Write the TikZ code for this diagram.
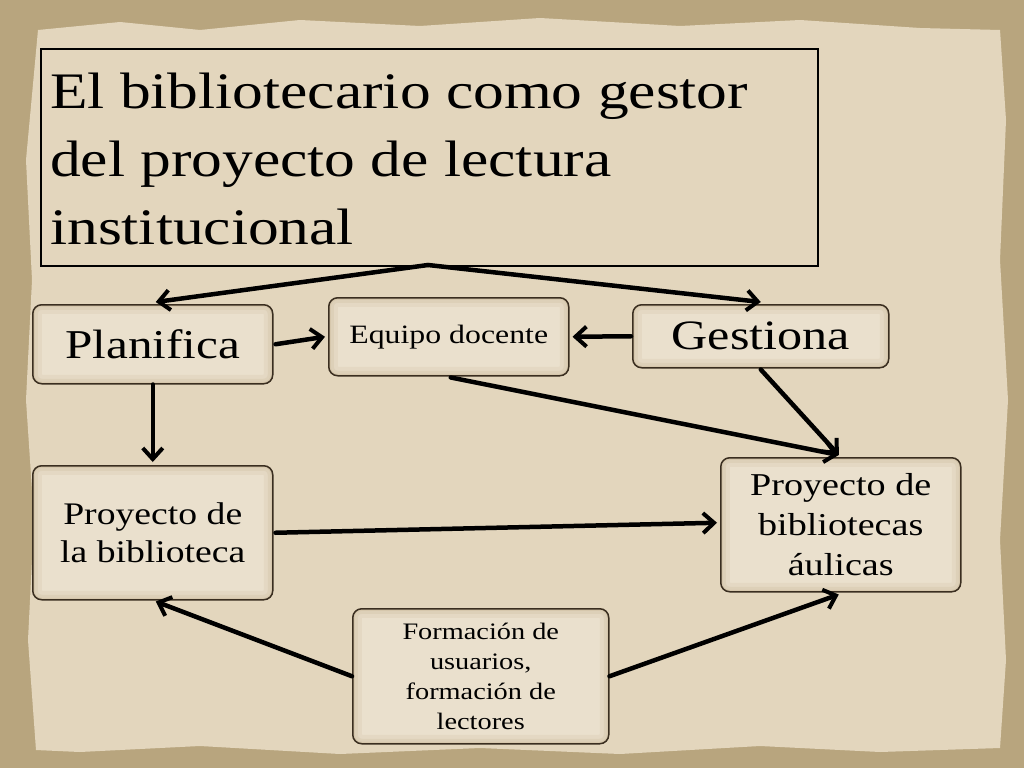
\documentclass[tikz,border=0pt]{standalone}
\usepackage{fontspec}
\setmainfont{Liberation Serif}[FakeStretch=1.2]
\usetikzlibrary{arrows.meta,calc}
\definecolor{outerbg}{HTML}{B8A57E}
\definecolor{paper}{HTML}{E3D6BD}
\definecolor{boxfill}{HTML}{EAE0CD}
\definecolor{boxshade}{HTML}{C2AE8A}
\definecolor{boxedge}{HTML}{3A2E20}
\tikzset{
  rbox/.style={draw=boxedge, line width=1.5pt, rounded corners=9pt, fill=boxfill,
    anchor=north west, align=center, inner sep=2pt, text=black,
    path picture={
      \draw[boxshade, line width=18pt, opacity=0.15, rounded corners=9pt]
        (path picture bounding box.south west) rectangle (path picture bounding box.north east);
      \draw[boxshade, line width=10pt, opacity=0.18, rounded corners=9pt]
        (path picture bounding box.south west) rectangle (path picture bounding box.north east);
      \draw[boxshade, line width=4pt, opacity=0.25, rounded corners=9pt]
        (path picture bounding box.south west) rectangle (path picture bounding box.north east);}},
  conn/.style={line width=4.5pt, -{Straight Barb[length=11pt,width=20pt,line width=4pt]}, line cap=round},
}
\begin{document}
\begin{tikzpicture}[x=1pt,y=-1pt]
\useasboundingbox (0,0) rectangle (1024,768);
\fill[outerbg] (0,0) rectangle (1024,768);
\fill[paper] (38,30) -- (120,22) -- (200,30) -- (300,20) -- (420,26) -- (540,18) -- (680,26) -- (800,20) -- (920,28) -- (1000,30)
  -- (1006,120) -- (1000,260) -- (1008,400) -- (1000,540) -- (1006,660) -- (1000,748)
  -- (880,752) -- (760,746) -- (620,754) -- (480,748) -- (340,754) -- (200,746) -- (80,752) -- (36,750)
  -- (28,640) -- (34,520) -- (26,400) -- (32,280) -- (26,160) -- cycle;
% title
\node[draw=black, line width=2pt, anchor=north west, minimum width=777pt, minimum height=217pt] (title) at (40,48) {};
\node[anchor=north west, align=left, inner sep=0pt, font=\fontsize{51.2}{68}\selectfont] (ttext) at (50,73)
  {El bibliotecario como gestor\\del proyecto de lectura\\institucional};
\coordinate (tsplit) at (428,265);
% boxes
\node[rbox, minimum width=240pt, minimum height=79pt, font=\fontsize{41}{48}\selectfont] (plan) at (32,304) {Planifica};
\node[rbox, minimum width=240pt, minimum height=78pt, font=\fontsize{26.5}{30}\selectfont] (equipo) at (328,297) {Equipo docente};
\node[rbox, minimum width=256pt, minimum height=63pt, font=\fontsize{41.8}{48}\selectfont] (gest) at (632,304) {Gestiona};
\node[rbox, minimum width=240pt, minimum height=134pt, font=\fontsize{31.4}{38}\selectfont] (pbib) at (32,465) {Proyecto de\\la biblioteca};
\node[rbox, minimum width=240pt, minimum height=134pt, font=\fontsize{31.8}{40}\selectfont] (paul) at (720,457) {Proyecto de\\bibliotecas\\áulicas};
\node[rbox, minimum width=256pt, minimum height=135pt, font=\fontsize{23.6}{30}\selectfont] (form) at (352,608) {Formación de\\usuarios,\\formación de\\lectores};
% connectors
\draw[conn] (tsplit) -- ($(plan.north)+(3,-2)$);
\draw[conn] (tsplit) -- ($(gest.north)+(0,-2)$);
\draw[conn] ($(plan.east)+(2,0)$) -- ($(equipo.west)+(-3,0)$);
\draw[conn] ($(gest.west)+(-1,0)$) -- ($(equipo.east)+(3,0)$);
\draw[conn] (plan.south) -- ($(pbib.north)+(0,-3)$);
\draw[conn] ($(equipo.south)+(2,1)$) -- ($(paul.north)+(-2,-2)$);
\draw[conn] ($(gest.south)+(0,1)$) -- ($(paul.north)+(-2,-2)$);
\draw[conn] ($(pbib.east)+(2,0)$) -- ($(paul.west)+(-3,-2)$);
\draw[conn] ($(form.west)+(0,0)$) -- ($(pbib.south)+(3,1)$);
\draw[conn] ($(form.east)+(0,0)$) -- ($(paul.south)+(-2,2)$);
\end{tikzpicture}
\end{document}
